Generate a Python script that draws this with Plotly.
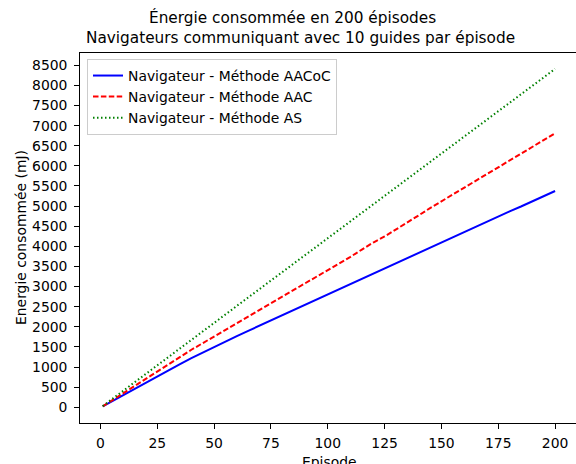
import plotly.graph_objects as go

episodes = [1, 5, 10, 15, 20, 25, 30, 35, 40, 45, 50, 55, 60, 65, 70, 75, 80, 85, 90, 95,
            100, 105, 110, 115, 120, 125, 130, 135, 140, 145, 150, 155, 160, 165, 170, 175,
            180, 185, 190, 195, 200]

energy_aacoc = [25, 150, 310, 470, 620, 775, 925, 1075, 1222, 1363, 1500, 1635, 1768, 1900,
                2030, 2160, 2290, 2420, 2550, 2680, 2810, 2940, 3070, 3200, 3330, 3460, 3590,
                3720, 3840, 3970, 4100, 4220, 4350, 4480, 4610, 4740, 4870, 4990, 5120, 5250, 5375]

energy_aac = [25, 170, 350, 540, 720, 900, 1080, 1260, 1430, 1595, 1760, 1925, 2090, 2255,
              2425, 2590, 2755, 2915, 3070, 3230, 3395, 3565, 3740, 3920, 4095, 4245, 4415,
              4590, 4770, 4950, 5120, 5290, 5460, 5620, 5790, 5960, 6130, 6300, 6470, 6640, 6810]

energy_as = [30, 200, 410, 620, 840, 1050, 1260, 1470, 1680, 1890, 2100, 2310, 2520, 2730,
             2940, 3150, 3360, 3570, 3780, 3990, 4200, 4410, 4620, 4830, 5040, 5250, 5460,
             5670, 5880, 6100, 6310, 6520, 6730, 6940, 7150, 7360, 7570, 7780, 7990, 8200, 8410]

x_ticks = [0, 25, 50, 75, 100, 125, 150, 175, 200]
y_ticks = list(range(0, 8501, 500))

FONT = "DejaVu Sans"

fig = go.Figure()
fig.add_trace(go.Scatter(x=episodes, y=energy_aacoc, mode="lines",
                         name="Navigateur - Méthode AACoC",
                         line=dict(color="#0000ff", width=2)))
fig.add_trace(go.Scatter(x=episodes, y=energy_aac, mode="lines",
                         name="Navigateur - Méthode AAC",
                         line=dict(color="#ff0000", width=2, dash="5.5px,2.4px")))
fig.add_trace(go.Scatter(x=episodes, y=energy_as, mode="lines",
                         name="Navigateur - Méthode AS",
                         line=dict(color="#008000", width=2, dash="1.5px,2.5px")))

L, T, B = 80, 53, 41
W, H = 576, 464
PH = H - T - B  # 370
PW = W - L      # 496

def py(ypx):
    return (H - B - ypx) / PH

def px(xpx):
    return (xpx - L) / PW

fig.update_layout(
    width=W, height=H,
    margin=dict(l=L, r=0, t=T, b=B, pad=0),
    paper_bgcolor="white", plot_bgcolor="white",
    font=dict(family=FONT, size=13.9, color="black"),
    showlegend=True,
    legend=dict(x=px(87), y=py(59), xanchor="left", yanchor="top",
                bgcolor="rgba(255,255,255,0.8)", bordercolor="#cccccc", borderwidth=1,
                font=dict(family=FONT, size=13.9, color="#000000"),
                tracegroupgap=0, itemwidth=30),
    xaxis=dict(range=[-9.0, 209.2], tickvals=x_ticks, ticktext=[str(v) for v in x_ticks],
               showgrid=False, zeroline=False, showline=True, linecolor="black",
               linewidth=0.8, mirror=True, ticks="outside", ticklen=4.9, tickwidth=0.8,
               tickcolor="black", ticklabelstandoff=3,
               tickfont=dict(family=FONT, size=13.9, color="black")),
    yaxis=dict(range=[-390, 8805], tickvals=y_ticks, ticktext=[str(v) for v in y_ticks],
               showgrid=False, zeroline=False, showline=True, linecolor="black",
               linewidth=0.8, mirror=False, ticks="outside", ticklen=4.9, tickwidth=0.8,
               tickcolor="black", ticklabelstandoff=4,
               tickfont=dict(family=FONT, size=13.9, color="black")),
    annotations=[
        dict(text="Énergie consommée en 200 épisodes", x=px(292), y=py(17),
             xref="paper", yref="paper", xanchor="center", yanchor="middle",
             showarrow=False, font=dict(family=FONT, size=15.3, color="black")),
        dict(text="Navigateurs communiquant avec 10 guides par épisode", x=px(300), y=py(38),
             xref="paper", yref="paper", xanchor="center", yanchor="middle",
             showarrow=False, font=dict(family=FONT, size=15.3, color="black")),
        dict(text="Episode", x=px(329), y=py(452), xref="paper", yref="paper",
             xanchor="center", yanchor="top", showarrow=False,
             font=dict(family=FONT, size=13.9, color="black")),
        dict(text="Energie consommée (mJ)", x=px(21), y=py(238), xref="paper", yref="paper",
             xanchor="center", yanchor="middle", textangle=-90, showarrow=False,
             font=dict(family=FONT, size=13.9, color="black")),
    ],
)

fig.write_html("out.html", config={"displayModeBar": False},
               post_script="document.body.style.margin='0px';document.body.style.padding='0px';document.body.style.overflow='hidden';")
